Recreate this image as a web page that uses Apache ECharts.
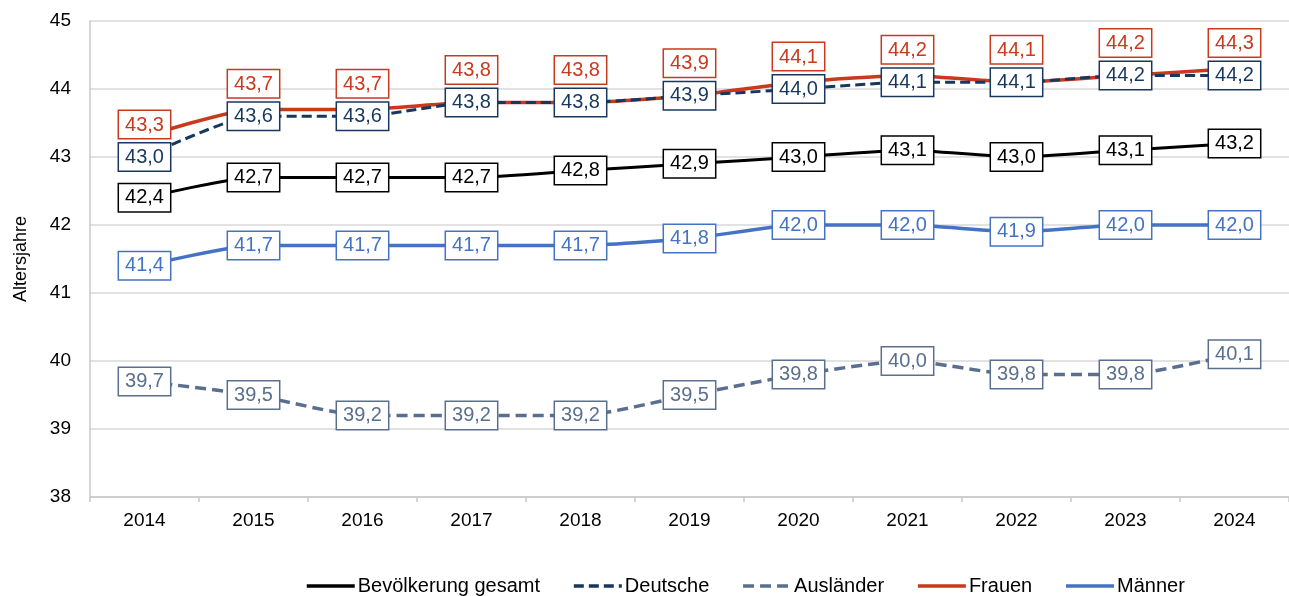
<!DOCTYPE html>
<html>
<head>
<meta charset="utf-8">
<script src="https://cdn.jsdelivr.net/npm/echarts@6/dist/echarts.min.js"></script>
<style>
  html, body { margin: 0; padding: 0; background: #fff; }
  #chart { width: 1289px; height: 596px; }
</style>
</head>
<body>
<div id="chart"></div>
<script>
// Jahre
const years = ["2014", "2015", "2016", "2017", "2018", "2019", "2020", "2021", "2022", "2023", "2024"];
// Durchschnittsalter je Gruppe
const gesamt = [42.4, 42.7, 42.7, 42.7, 42.8, 42.9, 43.0, 43.1, 43.0, 43.1, 43.2];
const deutsche = [43.0, 43.6, 43.6, 43.8, 43.8, 43.9, 44.0, 44.1, 44.1, 44.2, 44.2];
const auslaender = [39.7, 39.5, 39.2, 39.2, 39.2, 39.5, 39.8, 40.0, 39.8, 39.8, 40.1];
const frauen = [43.3, 43.7, 43.7, 43.8, 43.8, 43.9, 44.1, 44.2, 44.1, 44.2, 44.3];
const maenner = [41.4, 41.7, 41.7, 41.7, 41.7, 41.8, 42.0, 42.0, 41.9, 42.0, 42.0];

const FONT = "'Liberation Sans', Arial, sans-serif";

// Beschriftung im Kasten, Komma als Dezimaltrennzeichen
function boxLabel(color, position, distance) {
  return {
    show: true,
    position: position,
    distance: distance || 0,
    formatter: (p) => p.value.toFixed(1).replace(".", ","),
    color: color,
    fontFamily: FONT,
    fontSize: 20,
    lineHeight: 20,
    backgroundColor: "#fff",
    borderColor: color,
    borderWidth: 1.5,
    padding: [4, 6, 3, 6],
  };
}

function lineSeries(name, data, color, width, dash, labelPos, dist, z) {
  return {
    name: name,
    type: "line",
    data: data,
    z: z,
    smooth: 0.2,
    symbol: "circle",
    symbolSize: 0,
    itemStyle: { color: color },
    lineStyle: {
      color: color,
      width: width,
      type: dash || "solid",
    },
    label: boxLabel(color, labelPos, dist),
    emphasis: { disabled: true },
  };
}

const myChart = echarts.init(document.getElementById("chart"));

const frauenSeries = lineSeries("Frauen", frauen, "#c9391c", 3.5, null, "top", 12, 3);
// Frauen-Kasten sitzt direkt über dem Kasten der Deutschen (wie in Excel)
frauenSeries.labelLayout = function (params) {
  const i = params.dataIndex;
  let pt;
  try {
    pt = myChart.convertToPixel({ seriesIndex: 1 }, [i, deutsche[i]]);
  } catch (e) {
    return {};
  }
  if (!pt) return {};
  return {
    x: params.rect.x + params.rect.width / 2,
    y: pt[1] - 16 - params.labelRect.height,
    align: "center",
    verticalAlign: "top",
  };
};

myChart.setOption({
  animation: false,
  grid: { left: 90, right: -7, top: 21, bottom: 99 },
  legend: {
    left: 300,
    top: 571,
    itemWidth: 48,
    itemHeight: 20,
    itemGap: 32,
    itemStyle: { opacity: 0 },
    lineStyle: { width: 3.5 },
    textStyle: { fontFamily: FONT, fontSize: 20, color: "#000", padding: [0, 0, 0, -2] },
    data: ["Bevölkerung gesamt", "Deutsche", "Ausländer", "Frauen", "Männer"],
  },
  xAxis: {
    type: "category",
    data: years,
    boundaryGap: true,
    axisLine: { lineStyle: { color: "#c8c8c8", width: 1.5 } },
    axisTick: { show: true, length: 5, lineStyle: { color: "#c8c8c8", width: 1.5 } },
    axisLabel: { fontFamily: FONT, fontSize: 19, color: "#000", margin: 14 },
  },
  yAxis: {
    type: "value",
    min: 38,
    max: 45,
    interval: 1,
    name: "Altersjahre",
    nameLocation: "middle",
    nameGap: 60,
    nameTextStyle: { fontFamily: FONT, fontSize: 18, color: "#000" },
    axisLine: { show: true, lineStyle: { color: "#c8c8c8", width: 1.5 } },
    axisTick: { show: false },
    axisLabel: { fontFamily: FONT, fontSize: 19, color: "#000", margin: 19 },
    splitLine: { lineStyle: { color: "#d9d9d9", width: 1.5 } },
  },
  series: [
    lineSeries("Bevölkerung gesamt", gesamt, "#000000", 3, null, "inside", 0, 2),
    lineSeries("Deutsche", deutsche, "#17375e", 3, [10, 5], "inside", 0, 4),
    lineSeries("Ausländer", auslaender, "#5a6f8e", 3.5, [11, 6], "inside", 0, 2),
    frauenSeries,
    lineSeries("Männer", maenner, "#4472c4", 3.5, null, "inside", 0, 2),
  ],
});
</script>
</body>
</html>
